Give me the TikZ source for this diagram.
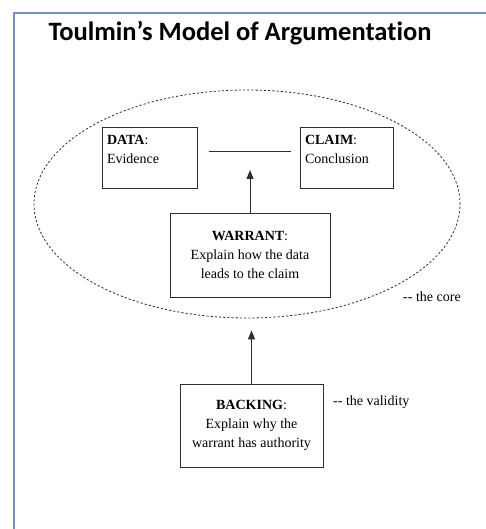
\documentclass[tikz,border=0pt]{standalone}
\usepackage{fontspec}
\setmainfont{Liberation Serif}
\newfontfamily\titlefont[Ligatures=NoCommon]{Carlito}
\usepackage{tikz}
\usetikzlibrary{arrows.meta,positioning,shapes.geometric,calc}
\definecolor{frameblue}{HTML}{7391C2}
\definecolor{inkgray}{HTML}{2E2E2E}
\newcommand{\twodash}{\mbox{-}\mbox{-}}

\begin{document}
\begin{tikzpicture}[
 x=1pt,y=-1pt,
 part/.style={rectangle,draw=inkgray,line width=1pt,inner sep=0pt,font=\fontsize{14}{19}\selectfont},
 side/.style={rectangle,inner sep=0pt,anchor=west,font=\fontsize{14}{19}\selectfont},
 arr/.style={-{Triangle[length=9pt,width=7pt]},draw=inkgray,fill=inkgray,line width=1pt}
]
\useasboundingbox (0,0) rectangle (486,529);
\draw[frameblue,line width=1.6pt] (486,13) -- (14,13) -- (14,529);
\node[anchor=base,inner sep=0pt,font=\titlefont\bfseries\fontsize{26.5}{30}\selectfont] (title) at (240,41) {Toulmin’s Model of Argumentation};

% the core: data, claim and warrant inside the dashed ellipse
\node[ellipse,draw=inkgray,dash pattern=on 2.2pt off 2pt,line width=0.8pt,minimum width=426pt,minimum height=228pt] (core) at (247,204) {};
\node[part,minimum width=95pt,minimum height=61pt] (data) at (149.5,158.5)
 {\parbox[c][47pt][t]{85pt}{\textbf{DATA}:\\Evidence}};
\node[part,minimum width=93pt,minimum height=61pt] (claim) at (346.5,158.5)
 {\parbox[c][47pt][t]{83pt}{\textbf{CLAIM}:\\Conclusion}};
\node[part,minimum width=160pt,minimum height=84pt,align=center] (warrant) at (250,255)
 {\textbf{WARRANT}:\\Explain how the data\\leads to the claim};
\node[part,minimum width=143pt,minimum height=83pt,align=center] (backing) at (251.5,425.5)
 {\textbf{BACKING}:\\Explain why the\\warrant has authority};

\node[side] (corelabel) at (403,297) {\twodash{} the core};
\node[side] (validlabel) at (333,402) {\twodash{} the validity};

\draw[inkgray,line width=1pt,shorten <=11pt,shorten >=9pt] ([yshift=6.5pt]data.east) -- ([yshift=6.5pt]claim.west);
\coordinate (link) at (warrant.north |- {0,152});
\draw[arr,shorten >=18pt] (warrant.north) -- (link);
\draw[arr,shorten >=12pt] (backing.north) -- (backing.north |- core.south);
\end{tikzpicture}
\end{document}
